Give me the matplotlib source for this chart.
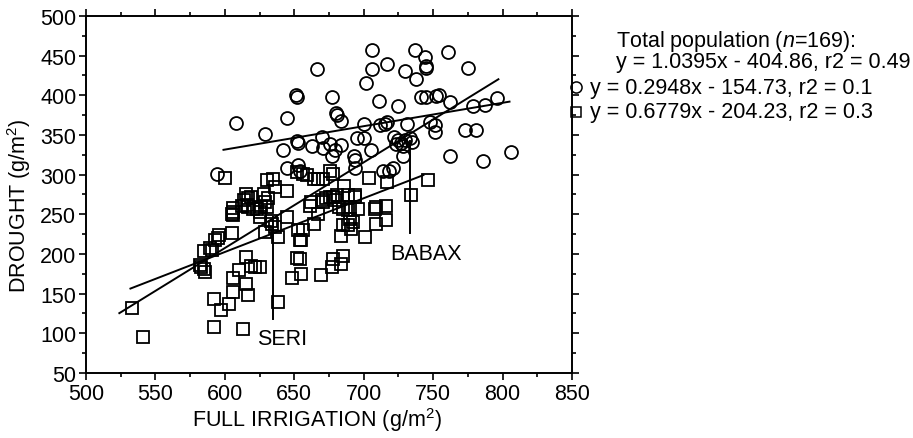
import numpy as np
import matplotlib
matplotlib.use("Agg")
import matplotlib.pyplot as plt
from matplotlib.ticker import MultipleLocator

plt.rcParams['font.family'] = ['Liberation Sans', 'DejaVu Sans']
plt.rcParams['mathtext.fontset'] = 'custom'
plt.rcParams['mathtext.rm'] = 'Liberation Sans'
plt.rcParams['mathtext.it'] = 'Liberation Sans:italic'

# circles group (full irrigation, drought), g/m2
circ_x = [594, 608, 629, 642, 645, 645, 651, 652, 652, 653, 653, 654, 663, 666, 670, 671,
          676, 677, 677, 679, 680, 681, 684, 684, 695, 700, 693, 694, 694, 700, 702, 705,
          706, 706, 711, 712, 715, 717, 714, 718, 721, 717, 722, 725, 727, 730, 733, 735,
          723, 728, 725, 728, 730, 731, 737, 738, 741, 745, 744, 745, 745, 748, 751, 751,
          752, 754, 761, 762, 762, 773, 781, 775, 779, 787, 796, 786, 806]
circ_y = [301, 365, 351, 331, 371, 309, 401, 398, 342, 340, 312, 304, 336, 433, 348, 333,
          339, 398, 324, 331, 378, 375, 368, 338, 346, 346, 324, 318, 309, 364, 415, 331,
          457, 433, 393, 363, 364, 366, 305, 304, 309, 440, 348, 344, 340, 344, 346, 341,
          339, 336, 386, 323, 431, 364, 457, 420, 398, 398, 448, 437, 435, 366, 362, 354,
          399, 400, 455, 391, 323, 356, 356, 435, 386, 388, 396, 317, 329]

# squares group
sq_x = [533, 541, 582, 583, 585, 586, 585, 589, 591, 593, 595, 596, 605, 592, 597, 603,
        606, 606, 610, 615, 615, 617, 619, 622, 625, 592, 613, 605, 606, 606, 612, 614,
        616, 617, 619, 620, 623, 626, 625, 630, 631, 629, 629, 634, 636, 638, 638, 633,
        625, 645, 653, 654, 652, 648, 600, 615, 617, 606, 628, 630, 635, 636, 645, 652,
        656, 659, 664, 667, 671, 676, 678, 686, 662, 671, 676, 679, 661, 670, 667, 664,
        656, 655, 654, 655, 673, 678, 682, 685, 689, 690, 694, 696, 690, 692, 685, 684,
        691, 689, 701, 708, 709, 716, 716, 678, 685, 684, 677, 669, 681, 689, 694, 704,
        717, 734, 746, 709]
sq_y = [132, 95, 186, 184, 181, 177, 204, 207, 205, 217, 220, 224, 227, 143, 130, 137,
        152, 170, 180, 196, 162, 148, 185, 184, 184, 108, 106, 251, 253, 249, 261, 268,
        262, 259, 272, 257, 257, 259, 253, 259, 271, 266, 228, 238, 234, 221, 140, 242,
        247, 247, 230, 217, 195, 170, 296, 275, 271, 258, 275, 293, 295, 285, 280, 303,
        301, 299, 295, 295, 295, 305, 301, 286, 266, 266, 272, 268, 261, 268, 251, 238,
        230, 217, 194, 175, 270, 272, 259, 257, 255, 259, 272, 257, 244, 240, 236, 223,
        232, 236, 221, 257, 238, 261, 243, 194, 198, 188, 183, 173, 274, 274, 274, 296,
        291, 274, 293, 259]

# fitted lines as drawn: slope, intercept, x range
tot_line = (1.08, -440.5, [524, 797])
circ_line = (0.2948, 154.73, [599, 805])
sq_line = (0.6779, -204.23, [532, 743])

# cultivar markers
cult_names = ['SERI', 'BABAX']
cult_x = [634.4, 733.3]
cult_y0 = [118, 226]
cult_y1 = [246, 342]
cult_lab_x = [623, 719]
cult_lab_y = [93, 200]

legend_lines = ['Total population ($n$=169):',
                'y = 1.0395x - 404.86, r2 = 0.49',
                'y = 0.2948x - 154.73, r2 = 0.1',
                'y = 0.6779x - 204.23, r2 = 0.3']

fs = 15.5

fig = plt.figure(figsize=(9.13, 4.39), dpi=100)
ax = fig.add_axes([0.0942, 0.1481, 0.5323, 0.8132])

ax.plot(circ_x, circ_y, 'o', ms=9.3, mfc='none', mec='black', mew=1.3, ls='none')
ax.plot(sq_x, sq_y, 's', ms=8.5, mfc='none', mec='black', mew=1.3, ls='none')

for m, b, xr in [tot_line, circ_line, sq_line]:
    xx = np.array(xr)
    ax.plot(xx, m * xx + b, color='black', lw=1.4)

for name, x, y0, y1, lx, ly in zip(cult_names, cult_x, cult_y0, cult_y1, cult_lab_x, cult_lab_y):
    ax.plot([x, x], [y0, y1], color='black', lw=1.4)
    ax.text(lx, ly, name, fontsize=fs, ha='left', va='center')

ax.set_xlim(500, 850)
ax.set_ylim(50, 500)
ax.xaxis.set_major_locator(MultipleLocator(50))
ax.xaxis.set_minor_locator(MultipleLocator(25))
ax.yaxis.set_major_locator(MultipleLocator(50))
ax.yaxis.set_minor_locator(MultipleLocator(25))
ax.tick_params(which='both', direction='out', top=True, right=True, width=1.2,
               labelsize=fs, pad=2)
ax.tick_params(which='major', length=5)
ax.tick_params(which='minor', length=3)
for s in ax.spines.values():
    s.set_linewidth(1.4)

ax.set_xlabel('FULL IRRIGATION (g/m$^2$)', fontsize=fs)
ax.set_ylabel('DROUGHT (g/m$^2$)', fontsize=fs)
ax.xaxis.set_label_coords(0.475, -0.09)
ax.yaxis.set_label_coords(-0.11, 0.47)

# legend block on the right
ly = [0.9066, 0.8565, 0.7995, 0.7426]
fig.text(0.6747, ly[0], legend_lines[0], fontsize=fs, va='center')
fig.text(0.6747, ly[1], legend_lines[1], fontsize=fs, va='center')
fig.text(0.646, ly[2], legend_lines[2], fontsize=fs, va='center')
fig.text(0.646, ly[3], legend_lines[3], fontsize=fs, va='center')
fig.add_artist(plt.Line2D([0.631], [ly[2]], marker='o', ms=8, mfc='none', mec='black', mew=1.1))
fig.add_artist(plt.Line2D([0.631], [ly[3]], marker='s', ms=7.5, mfc='none', mec='black', mew=1.1))

fig.savefig('out.png', dpi=100)
